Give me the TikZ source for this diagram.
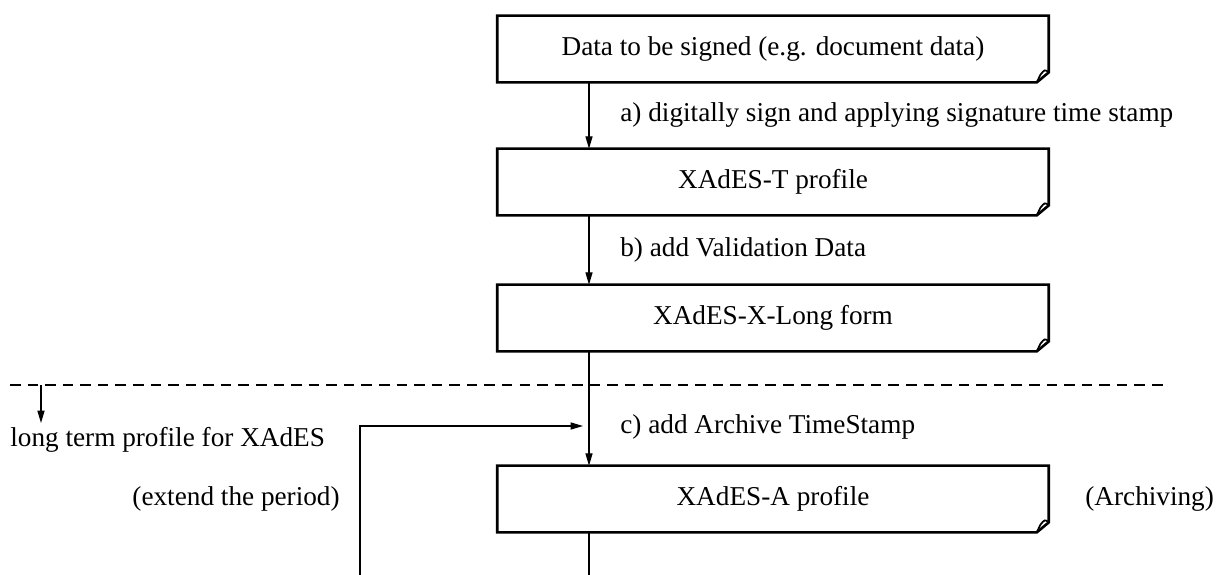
\documentclass[tikz,border=0pt]{standalone}
\usepackage{fontspec}
\setmainfont{Liberation Serif}
\usetikzlibrary{arrows.meta}

\tikzset{
  docbox/.style={minimum width=11.02cm, minimum height=1.32cm, inner sep=0pt},
  boxline/.style={line width=1.5pt, line join=miter},
  flow/.style={line width=0.7pt},
  arr/.style={flow, -{Triangle[length=7pt, width=4pt]}},
  lbl/.style={anchor=west, inner sep=0pt},
}

\begin{document}
\begin{tikzpicture}[x=0.02cm, y=-0.02cm, font=\fontsize{15.5}{18}\selectfont]
\useasboundingbox (0,0) rectangle (1228,575);

% document boxes
\node[docbox] (data) at (773,49) {Data to be signed (e.g. document data)};
\node[docbox] (xt) at (773,182) {XAdES-T profile};
\node[docbox] (xl) at (773,318) {XAdES-X-Long form};
\node[docbox] (xa) at (773,499) {XAdES-A profile};

% outline with folded corner
\foreach \b in {data, xt, xl, xa} {
  \draw[boxline] (\b.north west) -- (\b.north east) -- ([yshift=0.2cm]\b.south east)
    -- ([xshift=-0.24cm]\b.south east) -- (\b.south west) -- cycle;
  \draw[line width=1pt] ([yshift=0.2cm]\b.south east)
    .. controls ([xshift=-0.08cm, yshift=0.26cm]\b.south east) .. ([xshift=-0.17cm, yshift=0.15cm]\b.south east)
    -- ([xshift=-0.24cm]\b.south east);
}

% main flow
\coordinate (col) at (589,0);
\coordinate (bot) at (589,575);
\draw[arr] (data.south -| col) -- (xt.north -| col);
\draw[arr] (xt.south -| col) -- (xl.north -| col);
\draw[arr] (xl.south -| col) -- (xa.north -| col);
\draw[flow] (xa.south -| col) -- (bot);

% loop back
\coordinate (loopb) at (360,575);
\coordinate (loopt) at (583,426);
\draw[arr] (loopb) |- (loopt);

% long term border
\coordinate (dl) at (10,385);
\coordinate (dr) at (1165,385);
\coordinate (df) at (41,385);
\coordinate (dt) at (41,423);
\draw[flow, dash pattern=on 6pt off 4pt] (dl) -- (dr);
\draw[arr] (df) -- (dt);

% labels
\node[lbl] (la) at (620,115) {a) digitally sign and applying signature time stamp};
\node[lbl] (lb) at (620,250) {b) add Validation Data};
\node[lbl] (lc) at (620,427) {c) add Archive TimeStamp};
\node[lbl] (lterm) at (10,440) {long term profile for XAdES};
\node[anchor=east, inner sep=0pt] (lext) at (340,499) {(extend the period)};
\node[lbl] (larch) at (1085,499) {(Archiving)};
\end{tikzpicture}
\end{document}
